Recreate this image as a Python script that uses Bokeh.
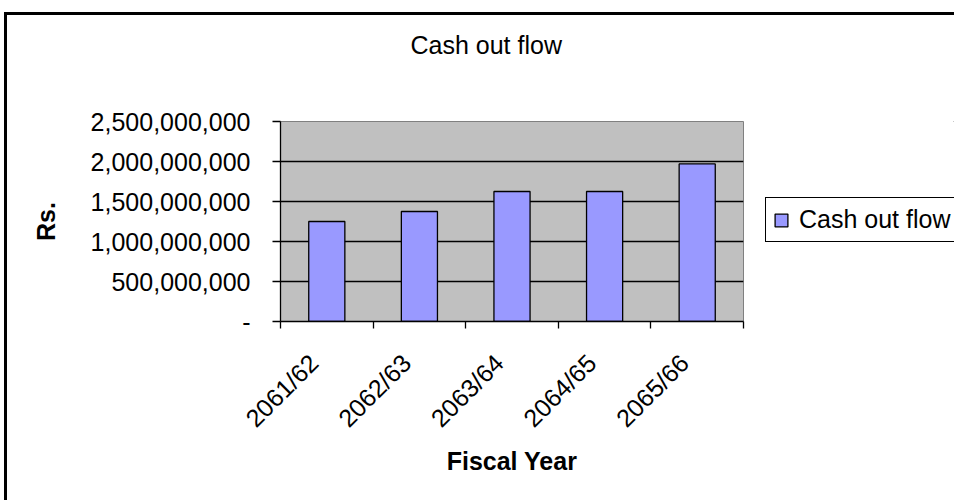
import numpy as np
from bokeh.plotting import figure
from bokeh.layouts import row
from bokeh.models import (ColumnDataSource, FixedTicker, NumeralTickFormatter,
                          Legend, LegendItem, Range1d, Title)
from bokeh.embed import file_html
from bokeh.resources import INLINE

years = ["2061/62", "2062/63", "2063/64", "2064/65", "2065/66"]
cash_out = [1250000000, 1375000000, 1625000000, 1625000000, 1970000000]
y_ticks = [0, 500000000, 1000000000, 1500000000, 2000000000, 2500000000]
series_name = "Cash out flow"
chart_title = "Cash out flow"

FONT = "Liberation Sans"
BAR_FILL = "#9999FF"

pos = [i + 0.5 for i in range(len(years))]
label_pos = [x - 0.14 for x in pos]
src = ColumnDataSource(dict(x=pos, top=cash_out, year=years))

H = 485
p = figure(width=748, height=H, output_backend="svg", toolbar_location=None,
           title=None,
           x_range=Range1d(0, len(years)), y_range=Range1d(0, y_ticks[-1]),
           min_border_left=273, min_border_right=12,
           min_border_top=106, min_border_bottom=H - 306)

p.background_fill_color = "#C0C0C0"
p.border_fill_color = "white"
p.outline_line_color = "#808080"
p.outline_line_width = 1

r = p.vbar(x="x", top="top", width=0.39, source=src,
           fill_color=BAR_FILL, line_color="black", line_width=1.3)

# title: spacer next to the frame, then the real title above it
p.add_layout(Title(text=" ", text_font_size="1px", standoff=60), "above")
p.add_layout(Title(text=chart_title, align="left", offset=130, standoff=0,
                   text_font=FONT, text_font_size="25px",
                   text_font_style="normal", text_color="black"), "above")

# x axis
xa = p.xaxis[0]
xa.ticker = FixedTicker(ticks=label_pos, minor_ticks=list(range(len(years) + 1)))
xa.major_label_overrides = {x: y for x, y in zip(label_pos, years)}
xa.major_label_orientation = np.pi / 4
xa.major_tick_out = 0
xa.major_tick_in = 0
xa.minor_tick_out = 7
xa.minor_tick_in = 0
xa.minor_tick_line_color = "black"
xa.minor_tick_line_width = 1.3
xa.axis_line_color = "black"
xa.axis_line_width = 1.3
xa.major_label_standoff = 30
xa.major_label_text_font = FONT
xa.major_label_text_font_size = "25px"
xa.major_label_text_color = "black"
xa.axis_label = "Fiscal Year"
xa.axis_label_text_font = FONT
xa.axis_label_text_font_size = "25px"
xa.axis_label_text_font_style = "bold"
xa.axis_label_text_color = "black"
xa.axis_label_standoff = 2

# y axis
ya = p.yaxis[0]
ya.ticker = FixedTicker(ticks=y_ticks)
ya.formatter = NumeralTickFormatter(format="0,0")
ya.major_label_overrides = {0: "-"}
ya.major_tick_out = 8
ya.major_tick_in = 0
ya.minor_tick_out = 0
ya.minor_tick_in = 0
ya.major_tick_line_color = "black"
ya.major_tick_line_width = 1.3
ya.axis_line_color = "black"
ya.axis_line_width = 1.3
ya.major_label_standoff = 22
ya.major_label_text_font = FONT
ya.major_label_text_font_size = "25px"
ya.major_label_text_color = "black"
ya.axis_label = "Rs."
ya.axis_label_text_font = FONT
ya.axis_label_text_font_size = "25px"
ya.axis_label_text_font_style = "bold"
ya.axis_label_text_color = "black"
ya.axis_label_standoff = 28

# grids
p.xgrid.visible = False
p.ygrid.ticker = FixedTicker(ticks=y_ticks[1:-1])
p.ygrid.grid_line_color = "black"
p.ygrid.grid_line_width = 1.3

# legend panel: separate canvas to the right; its frame is aligned with the chart's frame.
# The same bar series is drawn there entirely outside the visible ranges,
# so only its legend entry shows.
q = figure(width=199, height=H, output_backend="svg", toolbar_location=None,
           title=None, x_axis_type=None, y_axis_type=None,
           x_range=Range1d(-30, -20), y_range=Range1d(-30, -20),
           min_border=0)
q.outline_line_color = None
q.background_fill_color = "white"
q.border_fill_color = "white"
q.xgrid.visible = False
q.ygrid.visible = False
rq = q.vbar(x="x", top="top", width=0.39, source=src,
            fill_color=BAR_FILL, line_color="black", line_width=1.3)

legend = Legend(items=[LegendItem(label=series_name, renderers=[rq])],
                location=(10, 79), orientation="vertical")
legend.border_line_color = "black"
legend.border_line_alpha = 1
legend.border_line_width = 1.5
legend.background_fill_color = "white"
legend.background_fill_alpha = 1
legend.label_text_font = FONT
legend.label_text_font_size = "25px"
legend.label_text_color = "black"
legend.glyph_width = 16
legend.glyph_height = 16
legend.label_standoff = 10
legend.padding = 7
legend.margin = 0
legend.spacing = 0
q.add_layout(legend)

layout = row(p, q, spacing=0)
layout.styles = {"margin-left": "7px", "margin-top": "15px",
                 "outline": "3px solid #000"}

open("out.html", "w").write(file_html(layout, INLINE))
